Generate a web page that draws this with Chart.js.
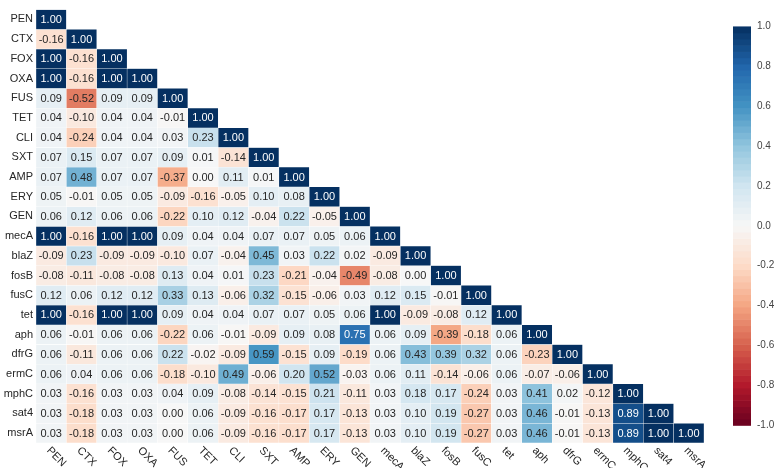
<!DOCTYPE html>
<html>
<head>
<meta charset="utf-8">
<script src="https://cdn.jsdelivr.net/npm/chart.js@4.4.1/dist/chart.umd.min.js"></script>
<style>
  html, body { margin: 0; padding: 0; background: #fff; }
  #wrap { width: 780px; height: 468px; }
</style>
</head>
<body>
<div id="wrap"><canvas id="heat"></canvas></div>
<script>
const labels = ['PEN', 'CTX', 'FOX', 'OXA', 'FUS', 'TET', 'CLI', 'SXT', 'AMP', 'ERY', 'GEN',
                'mecA', 'blaZ', 'fosB', 'fusC', 'tet', 'aph', 'dfrG', 'ermC', 'mphC', 'sat4', 'msrA'];

// lower triangle of the correlation matrix, row by row
const corr = [
    [1.00],
    [-0.16, 1.00],
    [1.00, -0.16, 1.00],
    [1.00, -0.16, 1.00, 1.00],
    [0.09, -0.52, 0.09, 0.09, 1.00],
    [0.04, -0.10, 0.04, 0.04, -0.01, 1.00],
    [0.04, -0.24, 0.04, 0.04, 0.03, 0.23, 1.00],
    [0.07, 0.15, 0.07, 0.07, 0.09, 0.01, -0.14, 1.00],
    [0.07, 0.48, 0.07, 0.07, -0.37, 0.00, 0.11, 0.01, 1.00],
    [0.05, -0.01, 0.05, 0.05, -0.09, -0.16, -0.05, 0.10, 0.08, 1.00],
    [0.06, 0.12, 0.06, 0.06, -0.22, 0.10, 0.12, -0.04, 0.22, -0.05, 1.00],
    [1.00, -0.16, 1.00, 1.00, 0.09, 0.04, 0.04, 0.07, 0.07, 0.05, 0.06, 1.00],
    [-0.09, 0.23, -0.09, -0.09, -0.10, 0.07, -0.04, 0.45, 0.03, 0.22, 0.02, -0.09, 1.00],
    [-0.08, -0.11, -0.08, -0.08, 0.13, 0.04, 0.01, 0.23, -0.21, -0.04, -0.49, -0.08, 0.00, 1.00],
    [0.12, 0.06, 0.12, 0.12, 0.33, 0.13, -0.06, 0.32, -0.15, -0.06, 0.03, 0.12, 0.15, -0.01, 1.00],
    [1.00, -0.16, 1.00, 1.00, 0.09, 0.04, 0.04, 0.07, 0.07, 0.05, 0.06, 1.00, -0.09, -0.08, 0.12, 1.00],
    [0.06, -0.01, 0.06, 0.06, -0.22, 0.06, -0.01, -0.09, 0.09, 0.08, 0.75, 0.06, 0.09, -0.39, -0.18, 0.06, 1.00],
    [0.06, -0.11, 0.06, 0.06, 0.22, -0.02, -0.09, 0.59, -0.15, 0.09, -0.19, 0.06, 0.43, 0.39, 0.32, 0.06, -0.23, 1.00],
    [0.06, 0.04, 0.06, 0.06, -0.18, -0.10, 0.49, -0.06, 0.20, 0.52, -0.03, 0.06, 0.11, -0.14, -0.06, 0.06, -0.07, -0.06, 1.00],
    [0.03, -0.16, 0.03, 0.03, 0.04, 0.09, -0.08, -0.14, -0.15, 0.21, -0.11, 0.03, 0.18, 0.17, -0.24, 0.03, 0.41, 0.02, -0.12, 1.00],
    [0.03, -0.18, 0.03, 0.03, 0.00, 0.06, -0.09, -0.16, -0.17, 0.17, -0.13, 0.03, 0.10, 0.19, -0.27, 0.03, 0.46, -0.01, -0.13, 0.89, 1.00],
    [0.03, -0.18, 0.03, 0.03, 0.00, 0.06, -0.09, -0.16, -0.17, 0.17, -0.13, 0.03, 0.10, 0.19, -0.27, 0.03, 0.46, -0.01, -0.13, 0.89, 1.00, 1.00]
];

const cbTicks = [-1.0, -0.8, -0.6, -0.4, -0.2, 0.0, 0.2, 0.4, 0.6, 0.8, 1.0];

// RdBu colormap stops
const rdbu = ['#67001f', '#b2182b', '#d6604d', '#f4a582', '#fddbc7', '#f7f7f7',
              '#d1e5f0', '#92c5de', '#4393c3', '#2166ac', '#053061'];

function hexToRgb(h) {
    return [parseInt(h.substr(1, 2), 16), parseInt(h.substr(3, 2), 16), parseInt(h.substr(5, 2), 16)];
}

function cmap(v) {
    let t = (Math.max(-1, Math.min(1, v)) + 1) / 2 * 10;
    let i = Math.min(9, Math.floor(t));
    let f = t - i;
    const a = hexToRgb(rdbu[i]), b = hexToRgb(rdbu[i + 1]);
    const c = a.map((x, k) => Math.round(x + (b[k] - x) * f));
    return `rgb(${c[0]}, ${c[1]}, ${c[2]})`;
}

const FONT = "'Liberation Sans', Arial, sans-serif";

const datasets = corr.map((row, i) => ({
    data: labels.map((_, j) => j <= i ? [i - 0.5, i + 0.5] : null),
    backgroundColor: labels.map((_, j) => j <= i ? cmap(row[j]) : 'transparent'),
    borderColor: 'rgba(255, 255, 255, 0.45)',
    borderWidth: 0.5,
    borderSkipped: false,
    barPercentage: 1,
    categoryPercentage: 1,
    grouped: false
}));

// cell annotations and rotated column labels
const annotate = {
    id: 'annotate',
    afterDatasetsDraw(chart) {
        const ctx = chart.ctx;
        const xs = chart.scales.x, ys = chart.scales.y;
        ctx.save();
        ctx.font = `11px ${FONT}`;
        ctx.textAlign = 'center';
        ctx.textBaseline = 'middle';
        corr.forEach((row, i) => {
            row.forEach((v, j) => {
                ctx.fillStyle = Math.abs(v) >= 0.7 ? '#ffffff' : '#262626';
                ctx.fillText(v.toFixed(2), xs.getPixelForValue(j), ys.getPixelForValue(i) + 0.5);
            });
        });
        // x labels, rotated 45 degrees clockwise
        ctx.textAlign = 'left';
        ctx.textBaseline = 'top';
        ctx.fillStyle = '#262626';
        labels.forEach((lab, j) => {
            ctx.save();
            ctx.translate(xs.getPixelForValue(j) + 1, chart.chartArea.bottom + 2);
            ctx.rotate(Math.PI / 4);
            ctx.fillText(lab, 0, 0);
            ctx.restore();
        });
        ctx.restore();
    }
};

// colour bar drawn against its own scale
const colorbar = {
    id: 'colorbar',
    afterDraw(chart) {
        const ctx = chart.ctx;
        const cb = chart.scales.cb;
        const x0 = cb.left + 29, w = 18;
        const n = 64;
        ctx.save();
        for (let k = 0; k < n; k++) {
            const lo = -1 + 2 * k / n, hi = -1 + 2 * (k + 1) / n;
            const yTop = cb.getPixelForValue(hi), yBot = cb.getPixelForValue(lo);
            ctx.fillStyle = cmap((lo + hi) / 2);
            ctx.fillRect(x0, yTop, w, yBot - yTop + 0.6);
        }
        ctx.restore();
    }
};

new Chart(document.getElementById('heat'), {
    type: 'bar',
    data: { labels: labels, datasets: datasets },
    options: {
        responsive: true,
        maintainAspectRatio: false,
        animation: false,
        layout: { padding: { top: 5, bottom: 25, left: 0, right: 0 } },
        plugins: {
            legend: { display: false },
            tooltip: { enabled: false }
        },
        scales: {
            x: {
                type: 'category',
                display: false,
                offset: true
            },
            y: {
                type: 'linear',
                reverse: true,
                min: -0.5,
                max: 21.5,
                grid: { display: false, drawTicks: false },
                border: { display: false },
                afterFit(scale) { scale.width = 36; },
                afterBuildTicks(scale) { scale.ticks = labels.map((_, i) => ({ value: i })); },
                ticks: {
                    autoSkip: false,
                    padding: 3,
                    color: '#262626',
                    font: { family: FONT, size: 11 },
                    callback: v => labels[v]
                }
            },
            cb: {
                type: 'linear',
                position: 'right',
                min: -1.0893,
                max: 1.0844,
                // invisible tick marks push the labels past the colour bar
                grid: { display: false, drawTicks: true, tickLength: 50 },
                border: { display: false },
                afterFit(scale) { scale.width = 76; },
                afterBuildTicks(scale) { scale.ticks = cbTicks.map(v => ({ value: v })); },
                ticks: {
                    autoSkip: false,
                    padding: 3,
                    color: '#444444',
                    font: { family: FONT, size: 10 },
                    callback: v => v.toFixed(1)
                }
            }
        }
    },
    plugins: [annotate, colorbar]
});
</script>
</body>
</html>
